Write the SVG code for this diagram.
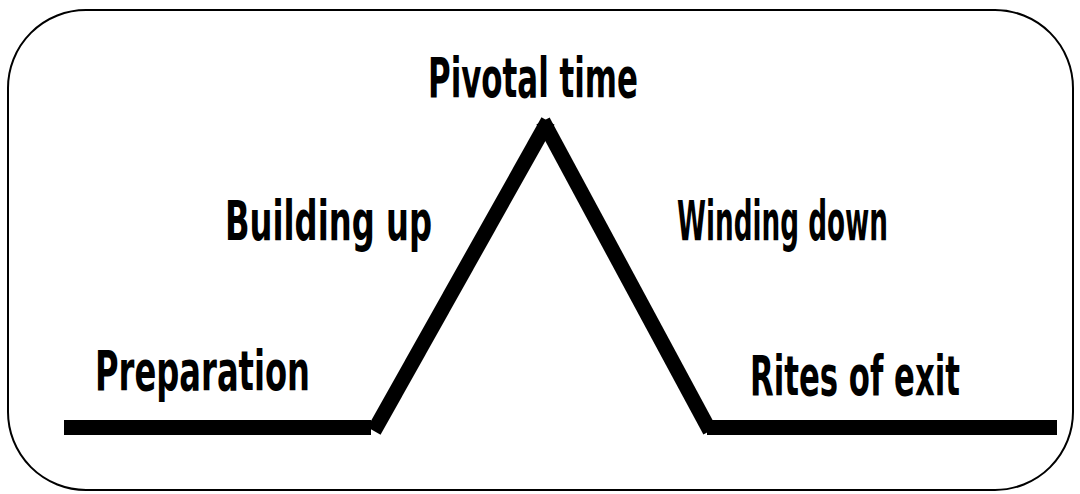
<svg xmlns="http://www.w3.org/2000/svg" width="1080" height="494" viewBox="0 0 1080 494">
<style>
.lbl{font-family:"DejaVu Sans Condensed","DejaVu Sans",sans-serif;font-weight:bold;font-size:56px;fill:#000}
.seg{stroke:#000;stroke-width:15;fill:none;stroke-linecap:butt}
</style>
<rect x="8" y="10" width="1065" height="480" rx="78" ry="78" fill="#fff" stroke="#000" stroke-width="2"/>
<g id="connectors">
<line class="seg" x1="64" y1="427.5" x2="371" y2="427.5"/>
<line class="seg" x1="374" y1="431" x2="548" y2="121"/>
<line class="seg" x1="543" y1="121" x2="710" y2="431"/>
<line class="seg" x1="707" y1="427.5" x2="1057" y2="427.5"/>
</g>
<g id="pivotal"><text class="lbl" x="428" y="97" textLength="210" lengthAdjust="spacingAndGlyphs">Pivotal time</text></g>
<g id="building"><text class="lbl" x="225" y="240" textLength="207" lengthAdjust="spacingAndGlyphs">Building up</text></g>
<g id="winding"><text class="lbl" x="677" y="240" textLength="211" lengthAdjust="spacingAndGlyphs">Winding down</text></g>
<g id="preparation"><text class="lbl" x="95" y="390" textLength="215" lengthAdjust="spacingAndGlyphs">Preparation</text></g>
<g id="rites"><text class="lbl" x="750" y="395" textLength="210" lengthAdjust="spacingAndGlyphs">Rites of exit</text></g>
</svg>
